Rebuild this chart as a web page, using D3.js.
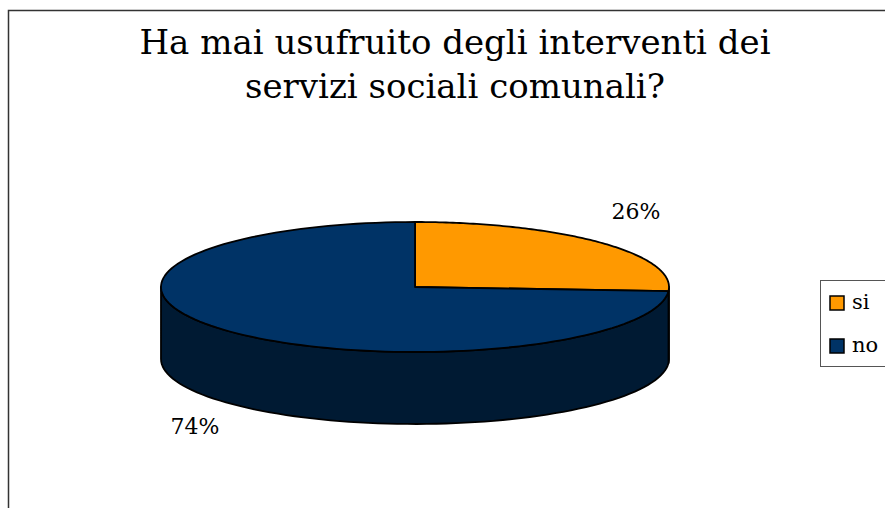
<!DOCTYPE html>
<html>
<head>
<meta charset="utf-8">
<script src="https://cdn.jsdelivr.net/npm/d3@7"></script>
<style>
  body { margin: 0; background: #fff; }
  svg { display: block; }
</style>
</head>
<body>
<svg id="chart" width="885" height="508"></svg>
<script>
const categories = ["si", "no"];
const values = [26, 74];
const colors = ["#FF9900", "#003366"];
const sideColors = ["#9a5c00", "#001a33"];
const titleLines = ["Ha mai usufruito degli interventi dei", "servizi sociali comunali?"];

const svg = d3.select("#chart");
const font = "'DejaVu Serif', 'Liberation Serif', serif";

// outer frame (cut off at right/bottom)
svg.append("rect")
  .attr("x", 8.5).attr("y", 10.5)
  .attr("width", 900).attr("height", 520)
  .attr("fill", "none").attr("stroke", "#333").attr("stroke-width", 1.5);

// title
svg.append("g").selectAll("text")
  .data(titleLines)
  .join("text")
  .attr("x", 455)
  .attr("y", (d, i) => 54 + i * 44)
  .attr("text-anchor", "middle")
  .attr("font-family", font)
  .attr("font-size", 34)
  .attr("fill", "#000")
  .text(d => d);

// pie geometry
const cx = 415, cy = 287, rx = 254, ry = 65, depth = 72;
const pt = (a, dy = 0) => [cx + rx * Math.sin(a), cy - ry * Math.cos(a) + dy];

const pie = d3.pie().sort(null).value(d => d.value);
const arcs = pie(categories.map((c, i) => ({name: c, value: values[i], i})));

const line = d3.line();
const g = svg.append("g").attr("stroke", "#000").attr("stroke-width", 1.8).attr("stroke-linejoin", "round");

// sides (front half only: PI/2 .. 3PI/2)
arcs.forEach(d => {
  const a0 = Math.max(d.startAngle, Math.PI / 2);
  const a1 = Math.min(d.endAngle, 3 * Math.PI / 2);
  if (a1 <= a0) return;
  const n = 80;
  const top = d3.range(n + 1).map(k => pt(a0 + (a1 - a0) * k / n));
  const bottom = top.map(p => [p[0], p[1] + depth]).reverse();
  g.append("path")
    .attr("d", line(top.concat(bottom)) + "Z")
    .attr("fill", sideColors[d.data.i]);
});

// tops
arcs.forEach(d => {
  const n = 120;
  const pts = [[cx, cy]].concat(d3.range(n + 1).map(k => pt(d.startAngle + (d.endAngle - d.startAngle) * k / n)));
  g.append("path")
    .attr("d", line(pts) + "Z")
    .attr("fill", colors[d.data.i]);
});

// percent labels
const labelPos = [[636, 219], [195, 434]];
svg.append("g").selectAll("text")
  .data(arcs)
  .join("text")
  .attr("x", (d, i) => labelPos[i][0])
  .attr("y", (d, i) => labelPos[i][1])
  .attr("text-anchor", "middle")
  .attr("font-family", font)
  .attr("font-size", 22)
  .attr("fill", "#000")
  .text(d => d.data.value + "%");

// legend
const legend = svg.append("g");
legend.append("rect")
  .attr("x", 820.5).attr("y", 280.5)
  .attr("width", 100).attr("height", 86)
  .attr("fill", "#fff").attr("stroke", "#555").attr("stroke-width", 1);
const items = legend.selectAll("g.item")
  .data(categories)
  .join("g").attr("class", "item")
  .attr("transform", (d, i) => `translate(830, ${296 + i * 43})`);
items.append("rect")
  .attr("x", 0).attr("y", 0).attr("width", 14).attr("height", 14)
  .attr("fill", (d, i) => colors[i]).attr("stroke", "#000").attr("stroke-width", 1.5);
items.append("text")
  .attr("x", 22).attr("y", 13)
  .attr("font-family", font).attr("font-size", 21)
  .text(d => d);
</script>
</body>
</html>
